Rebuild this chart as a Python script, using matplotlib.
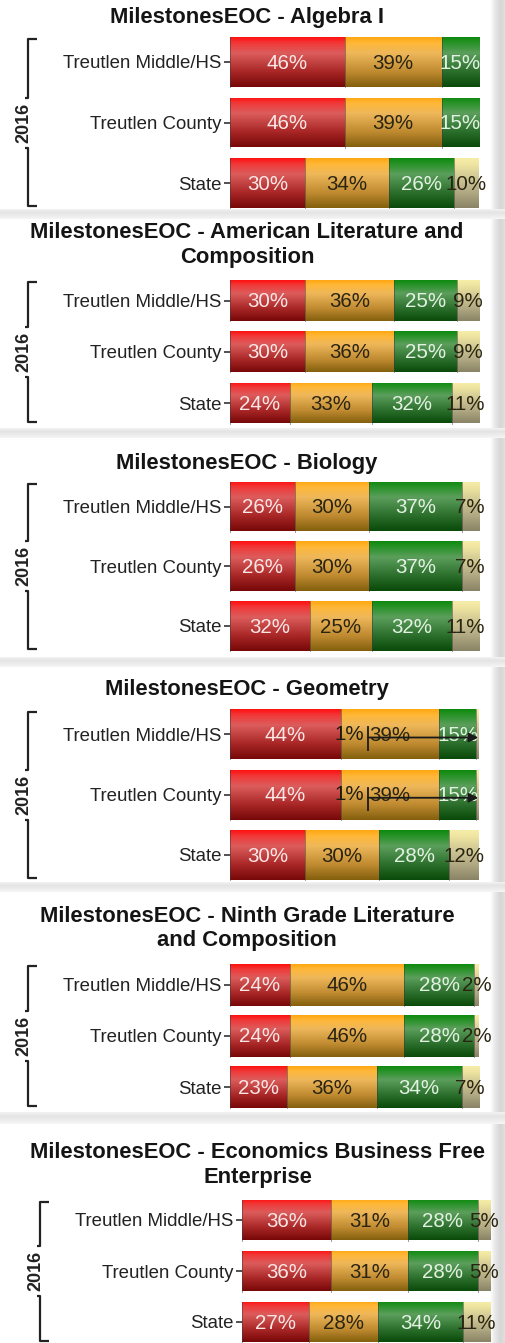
import numpy as np
import matplotlib
matplotlib.use("Agg")
import matplotlib.pyplot as plt
from matplotlib.colors import LinearSegmentedColormap

# ---------------- data ----------------
titles = [
    "MilestonesEOC - Algebra I",
    "MilestonesEOC - American Literature and\nComposition",
    "MilestonesEOC - Biology",
    "MilestonesEOC - Geometry",
    "MilestonesEOC - Ninth Grade Literature\nand Composition",
    "MilestonesEOC - Economics Business Free\nEnterprise",
]
schools = ["Treutlen Middle/HS", "Treutlen County", "State"]
year = "2016"

beginning = [[46, 46, 30], [30, 30, 24], [26, 26, 32], [44, 44, 30], [24, 24, 23], [36, 36, 27]]
developing = [[39, 39, 34], [36, 36, 33], [30, 30, 25], [39, 39, 30], [46, 46, 36], [31, 31, 28]]
proficient = [[15, 15, 26], [25, 25, 32], [37, 37, 32], [15, 15, 28], [28, 28, 34], [28, 28, 34]]
distinguished = [[0, 0, 10], [9, 9, 11], [7, 7, 11], [1, 1, 12], [2, 2, 7], [5, 5, 11]]

# ---------------- styles ----------------
W, H = 506, 1343
FONT = "Liberation Sans"
grad_stops = [
    ["#ff1212", "#f03a3a", "#dc5c5c", "#a82626", "#780808"],   # red
    ["#ffa812", "#ffb83a", "#eeb75a", "#bf8a30", "#84600e"],   # orange
    ["#0f8a0f", "#2a932a", "#5c9e5c", "#2b6e2b", "#0a4a0a"],   # green
    ["#f6eda8", "#efe5a0", "#d8cf98", "#b0a882", "#8a8466"],   # pale
]
label_colors = ["#fbe6e6", "#2a2412", "#e2f2e2", "#2a2412"]
cmaps = [LinearSegmentedColormap.from_list(f"g{i}", list(zip([0, 0.12, 0.32, 0.7, 1.0], s)))
         for i, s in enumerate(grad_stops)]
gradient = np.linspace(0, 1, 64).reshape(-1, 1)

# pixel layout of each panel
layout = [
    dict(ty=18, tx=247, x0=230, x1=479, c0=62, c2=183, bh=50, bx=28),
    dict(ty=245, tx=247, x0=230, x1=479, c0=300.5, c2=403, bh=41, bx=28),
    dict(ty=463, tx=247, x0=230, x1=479, c0=506.5, c2=626, bh=50, bx=28),
    dict(ty=690, tx=247, x0=230, x1=479, c0=734.5, c2=855, bh=50, bx=28),
    dict(ty=928.5, tx=247, x0=230, x1=479, c0=984.5, c2=1087, bh=42, bx=28),
    dict(ty=1165, tx=258, x0=242, x1=490, c0=1220, c2=1322, bh=41, bx=40),
]
separators = [(209, 219), (428, 438), (657, 667), (882, 892), (1112, 1124)]


def fig_rect(x0, y0, x1, y1):
    return [x0 / W, 1 - y1 / H, (x1 - x0) / W, (y1 - y0) / H]


fig = plt.figure(figsize=(W / 100, H / 100), dpi=100)
fig.patch.set_facecolor("white")

# background / decoration axes in pixel coordinates
bg = fig.add_axes([0, 0, 1, 1], zorder=-5)
bg.set_xlim(0, W)
bg.set_ylim(H, 0)
bg.axis("off")

# right shadow strip
shade = np.linspace(0, 1, 32).reshape(1, -1)
shadow_cmap = LinearSegmentedColormap.from_list("sh", ["#ffffff", "#e6e6e6", "#d6d6d6", "#e2e2e2"])
bg.imshow(shade, cmap=shadow_cmap, extent=(490, 506, H, 0), aspect="auto", zorder=0)
# horizontal separators
vshade = np.linspace(0, 1, 32).reshape(-1, 1)
sep_cmap = LinearSegmentedColormap.from_list("sp", ["#f2f2f2", "#e4e4e4", "#ececec", "#f6f6f6"])
for (s0, s1) in separators:
    bg.imshow(vshade, cmap=sep_cmap, extent=(0, 506, s1, s0), aspect="auto", zorder=1)
bg.set_xlim(0, W)
bg.set_ylim(H, 0)

levels = [beginning, developing, proficient, distinguished]

for p, lay in enumerate(layout):
    spacing = (lay["c2"] - lay["c0"]) / 2
    top = lay["c0"] - spacing / 2
    bot = lay["c2"] + spacing / 2
    ax = fig.add_axes(fig_rect(lay["x0"], top, lay["x1"], bot))
    ax.set_facecolor("none")
    for sp in ax.spines.values():
        sp.set_visible(False)
    hfrac = lay["bh"] / spacing

    vals = np.array([lvl[p] for lvl in levels], dtype=float)  # 4 x 3
    totals = vals.sum(axis=0)
    ypos = np.arange(len(schools))
    left = np.zeros(len(schools))
    for k in range(4):
        widths = vals[k] / totals * 100
        bars = ax.barh(ypos, widths, left=left, height=hfrac, color="none", edgecolor="none")
        for j, patch in enumerate(bars.patches):
            if vals[k, j] <= 0:
                continue
            x0 = left[j]
            x1 = left[j] + widths[j]
            im = ax.imshow(gradient, cmap=cmaps[k], origin="upper", aspect="auto",
                           extent=(x0, x1, ypos[j] + hfrac / 2, ypos[j] - hfrac / 2),
                           zorder=1, interpolation="bilinear")
            im.set_clip_path(patch)
            ax.plot([x0, x0], [ypos[j] - hfrac / 2, ypos[j] + hfrac / 2],
                    color="#3a3a3a", lw=0.6, alpha=0.6, zorder=2)
            if vals[k, j] <= 1:
                # small segment: displaced label with arrow
                lx = left[j] - vals[k - 1, j] / totals[j] * 100 - vals[k - 2, j] / totals[j] * 100 + 3.4
                ax.text(lx, ypos[j], f"{int(vals[k, j])}%", ha="center", va="center",
                        fontsize=14.8, family=FONT, color="#1e1a10", zorder=4)
                ax.plot([lx + 7.6, lx + 7.6], [ypos[j] - 0.12, ypos[j] + 0.25],
                        color="#1a1a1a", lw=1.3, zorder=5)
                ax.annotate("", xy=(x1 - 0.3, ypos[j] + 0.05), xytext=(lx + 7.6, ypos[j] + 0.05),
                            arrowprops=dict(arrowstyle="-|>", color="#1a1a1a", lw=1.3,
                                            mutation_scale=14, shrinkA=0, shrinkB=0),
                            zorder=5)
            else:
                ax.text((x0 + x1) / 2, ypos[j] + 0.02, f"{int(vals[k, j])}%", ha="center", va="center",
                        fontsize=14.8, family=FONT, color=label_colors[k], zorder=3)
        left = left + widths

    ax.set_xlim(0, 100)
    ax.set_ylim(len(schools) - 0.5, -0.5)
    ax.set_xticks([])
    ax.set_yticks(ypos)
    ax.set_yticklabels(schools, fontsize=13.4, family=FONT, color="#222222")
    ax.tick_params(axis="y", length=4, width=1.2, color="#333333", pad=2)

    # title
    bg.text(lay["tx"], lay["ty"], titles[p], ha="center", va="center", fontsize=15.8,
            fontweight="bold", family=FONT, color="#141414", linespacing=1.22)

    # bracket and year
    b0 = lay["c0"] - lay["bh"] / 2 + 2
    b1 = lay["c2"] + lay["bh"] / 2 - 2
    mid = (b0 + b1) / 2
    bx = lay["bx"]
    bg.plot([bx + 9, bx, bx, bx - 3], [b0, b0, mid - 25, mid - 25], color="#222222", lw=1.6,
            solid_capstyle="butt")
    bg.plot([bx - 3, bx, bx, bx + 9], [mid + 25, mid + 25, b1, b1], color="#222222", lw=1.6,
            solid_capstyle="butt")
    bg.text(bx - 4, mid, year, rotation=90, ha="center", va="center", fontsize=13,
            fontweight="bold", family=FONT, color="#222222")

fig.savefig("out.png", dpi=100, facecolor="white")
